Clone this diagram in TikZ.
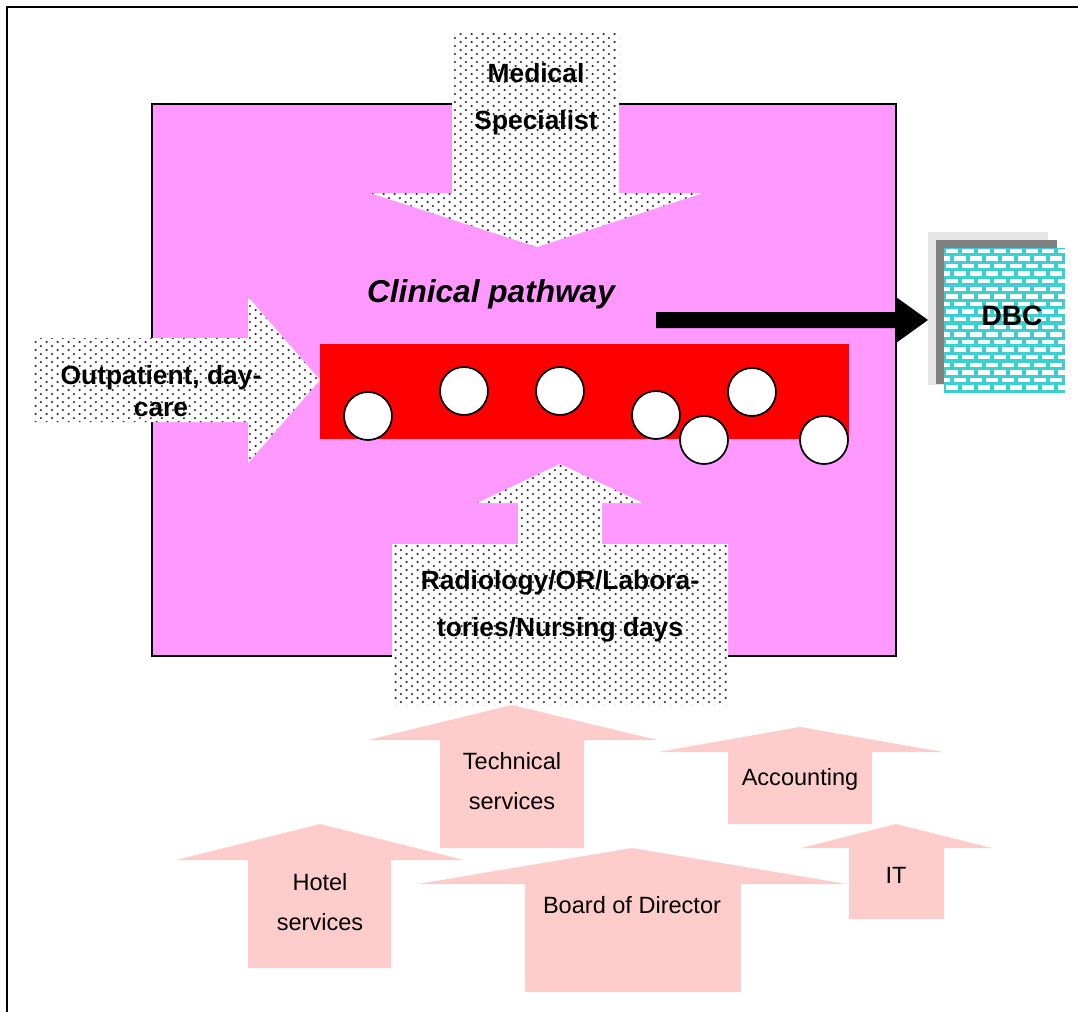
\documentclass[tikz,border=0pt]{standalone}
\usepackage{fontspec}
\setmainfont{Liberation Sans}
\usetikzlibrary{patterns}
\definecolor{wardpink}{HTML}{FF99FF}
\definecolor{pathred}{HTML}{FF0000}
\definecolor{supportpink}{HTML}{FFCCCC}
\definecolor{brickcyan}{HTML}{3CCFCF}
\definecolor{shadowlight}{HTML}{E6E6E6}
\definecolor{shadowdark}{HTML}{808080}
% sparse diagonal dot screen for the input arrows
\pgfdeclarepatternformonly{sparsedots}{\pgfpointorigin}{\pgfpoint{6.4pt}{4.8pt}}{\pgfpoint{6.4pt}{4.8pt}}{
  \pgfpathcircle{\pgfpoint{1.6pt}{1.2pt}}{0.72pt}
  \pgfpathcircle{\pgfpoint{4.8pt}{3.6pt}}{0.72pt}
  \pgfusepath{fill}}
\tikzset{
  dotted arrow/.style={preaction={fill=white}, pattern=sparsedots, pattern color=black!80},
  support arrow/.style={fill=supportpink},
  patient/.style={circle, draw=black, line width=1pt, fill=white, minimum size=48*0.02cm, inner sep=0pt},
  boldlabel/.style={font=\bfseries\fontsize{15}{26.6}\selectfont, align=center, inner sep=0pt},
  plainlabel/.style={font=\fontsize{13.4}{23.2}\selectfont, align=center, inner sep=0pt},
}
\begin{document}
\begin{tikzpicture}[x=0.02cm, y=-0.02cm]
\useasboundingbox (0,0) rectangle (1078,1011);

% outer frame (only its top and left edges fall inside the page)
\draw[line width=1pt] (7,1030) -- (7,7) -- (1090,7);

% hospital ward area
\draw[line width=1pt, fill=wardpink] (152,104) rectangle (896,656);

% clinical pathway bar with patients
\fill[pathred] (320,344) rectangle (849,439);
\foreach \n/\x/\y in {p1/368/416, p2/464/391, p3/560/391, p4/656/415, p5/704/440, p6/752/392, p7/824/440}
  \node[patient] (\n) at (\x,\y) {};

% medical specialist input
\path[dotted arrow] (452,33) -- (619,33) -- (619,193) -- (703,193) -- (537,247)
  -- (370,193) -- (452,193) -- cycle;
\node[boldlabel] (med) at (536,99) {Medical\\Specialist};

% outpatient input
\path[dotted arrow] (32,338) -- (248,338) -- (248,297) -- (320,380) -- (248,463)
  -- (248,422) -- (32,422) -- cycle;
\node[boldlabel, font=\bfseries\fontsize{15}{18.1}\selectfont] (outp) at (161,391) {Outpatient, day-\\care};

% diagnostic services input
\path[dotted arrow] (392,544) -- (518,544) -- (518,503) -- (477,503) -- (560,464)
  -- (643,503) -- (602,503) -- (602,544) -- (728,544) -- (728,705) -- (392,705) -- cycle;
\node[boldlabel] (radio) at (560,606) {Radiology/OR/Labora-\\tories/Nursing days};

% title
\node[font=\bfseries\itshape\fontsize{18}{21}\selectfont, inner sep=0pt] (title) at (491,294) {Clinical pathway};

% output arrow towards DBC
\fill[black] (656,312) -- (896,312) -- (896,297) -- (928,320) -- (896,343)
  -- (896,328) -- (656,328) -- cycle;

% DBC block with shadows and brick fill
\fill[shadowlight] (928,232) rectangle (1048,385);
\fill[shadowdark] (936,240) rectangle (1057,384);
\begin{scope}
  \clip (944,248) rectangle (1065,393);
  \fill[brickcyan] (944,248) rectangle (1065,393);
  \foreach \r in {0,...,19} {
    \pgfmathsetmacro\off{mod(\r,2)*8}
    \foreach \c in {-1,...,8}
      \fill[white] ({944+\c*16+\off+1.5},{247+\r*7.6+1.6}) rectangle +(12.6,4.4);
  }
\end{scope}
\node[font=\bfseries\fontsize{16}{19}\selectfont, inner sep=0pt] (dbc) at (1012,316) {DBC};

% supporting departments
\path[support arrow] (440,848) -- (440,740) -- (368,740) -- (512,705) -- (657,740)
  -- (584,740) -- (584,848) -- cycle;
\node[plainlabel] (tech) at (512,781) {Technical\\services};

\path[support arrow] (728,824) -- (728,752) -- (658,752) -- (800,727) -- (943,752)
  -- (872,752) -- (872,824) -- cycle;
\node[plainlabel] (acc) at (800,779) {Accounting};

\path[support arrow] (248,968) -- (248,860) -- (176,860) -- (320,824) -- (464,860)
  -- (391,860) -- (391,968) -- cycle;
\node[plainlabel] (hotel) at (320,902) {Hotel\\services};

\path[support arrow] (525,992) -- (525,884) -- (418,884) -- (632,848) -- (847,884)
  -- (741,884) -- (741,992) -- cycle;
\node[plainlabel] (board) at (632,905) {Board of Director};

\path[support arrow] (849,919) -- (849,848) -- (801,848) -- (896,824) -- (992,848)
  -- (944,848) -- (944,919) -- cycle;
\node[plainlabel] (it) at (896,875) {IT};
\end{tikzpicture}
\end{document}
